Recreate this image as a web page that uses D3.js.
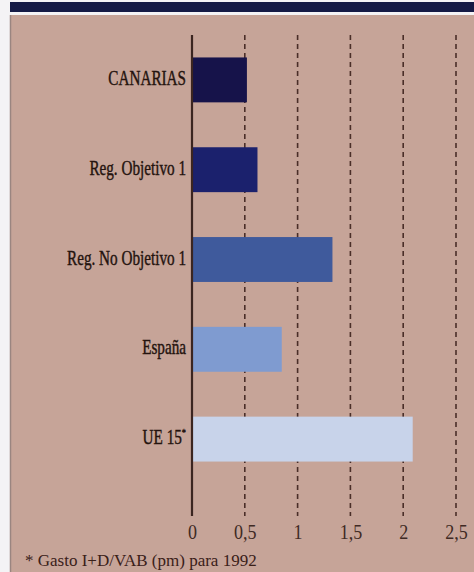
<!DOCTYPE html>
<html>
<head>
<meta charset="utf-8">
<script src="https://cdn.jsdelivr.net/npm/d3@7"></script>
<style>
  html, body { margin: 0; padding: 0; background: #f4f3f5; }
  svg { display: block; }
</style>
</head>
<body>
<svg id="chart" width="474" height="572"></svg>
<script>
// R&D spending over regional GVA, 1992
const categories = ["CANARIAS", "Reg. Objetivo 1", "Reg. No Objetivo 1", "España", "UE 15*"];
const values = [0.52, 0.62, 1.33, 0.85, 2.09];
const barColors = ["#16134a", "#1b216d", "#3f5a9c", "#7f9bd0", "#c8d3ea"];
const tickValues = [0, 0.5, 1, 1.5, 2, 2.5];
const tickLabels = ["0", "0,5", "1", "1,5", "2", "2,5"];
const footnote = "* Gasto I+D/VAB (pm) para 1992";

const svg = d3.select("#chart");
const W = 474, H = 572;
const serif = "'Liberation Serif', 'Times New Roman', serif";

// page frame: white margin, navy band on top, tan panel
svg.append("rect").attr("x", 0).attr("y", 0).attr("width", W).attr("height", H).attr("fill", "#f4f3f5");
svg.append("rect").attr("x", 10).attr("y", 2).attr("width", W - 10).attr("height", 10).attr("fill", "#151a45");
svg.append("rect").attr("x", 10).attr("y", 15).attr("width", W - 10).attr("height", H - 15).attr("fill", "#c6a498");
svg.append("line").attr("x1", 10.5).attr("x2", 10.5).attr("y1", 15).attr("y2", H)
  .attr("stroke", "#9a8580").attr("stroke-width", 1.5);

const x = d3.scaleLinear().domain([0, 2.5]).range([192, 456]);
const y = d3.scaleBand().domain(categories).range([35, 484]).paddingInner(0.5).paddingOuter(0.25);

// dashed vertical gridlines
svg.append("g").selectAll("line")
  .data(tickValues.slice(1))
  .join("line")
  .attr("x1", d => x(d)).attr("x2", d => x(d))
  .attr("y1", 35).attr("y2", 516)
  .attr("stroke", "#4a2e28").attr("stroke-width", 1.6)
  .attr("stroke-dasharray", "5,4");

// bars
svg.append("g").selectAll("rect")
  .data(categories)
  .join("rect")
  .attr("x", x(0))
  .attr("y", d => y(d))
  .attr("width", (d, i) => x(values[i]) - x(0))
  .attr("height", y.bandwidth())
  .attr("fill", (d, i) => barColors[i]);

// zero axis line
svg.append("line").attr("x1", x(0)).attr("x2", x(0)).attr("y1", 35).attr("y2", 516)
  .attr("stroke", "#3b2520").attr("stroke-width", 2.2);

// category labels, set in a narrow serif
svg.append("g")
  .selectAll("text")
  .data(categories)
  .join("text")
  .attr("transform", d => `translate(186,${y(d) + y.bandwidth() / 2 - 2}) scale(0.76,1)`)
  .attr("dy", "0.35em")
  .attr("text-anchor", "end")
  .attr("font-family", serif)
  .attr("font-size", 20)
  .attr("fill", "#24130e")
  .attr("stroke", "#24130e")
  .attr("stroke-width", 0.4)
  .each(function(d) {
    const t = d3.select(this);
    if (d.endsWith("*")) {
      t.append("tspan").text(d.slice(0, -1));
      t.append("tspan").attr("font-size", 11).attr("dy", "-0.7em").text("*");
    } else {
      t.text(d);
    }
  });

// axis tick labels
const axis = d3.axisBottom(x)
  .tickValues(tickValues)
  .tickFormat((d, i) => tickLabels[i])
  .tickSize(0)
  .tickPadding(0);
const axisG = svg.append("g").attr("transform", "translate(0,523)").call(axis);
axisG.select(".domain").remove();
axisG.selectAll("text")
  .attr("font-family", serif)
  .attr("font-size", 22)
  .attr("fill", "#3f2a24")
  .attr("transform", "scale(0.82,1)")
  .attr("dy", "0.71em");

// footnote
svg.append("text")
  .attr("x", 25).attr("y", 566)
  .attr("font-family", serif)
  .attr("font-size", 17)
  .attr("fill", "#3a2018")
  .text(footnote);
</script>
</body>
</html>
